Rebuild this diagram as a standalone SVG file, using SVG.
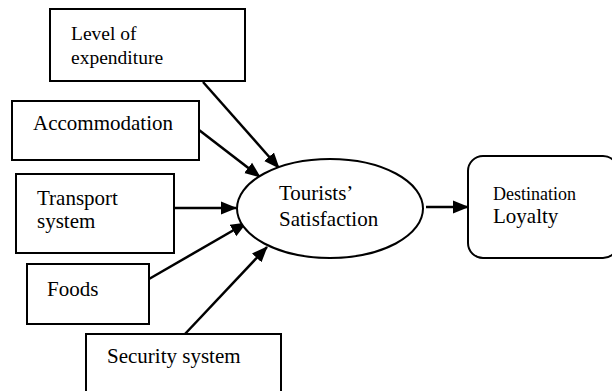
<svg xmlns="http://www.w3.org/2000/svg" width="612" height="391" viewBox="0 0 612 391">
<style>
.box{fill:#fff;stroke:#000;stroke-width:2}
.t{font-family:"Liberation Serif","Times New Roman",serif;font-size:21px;fill:#000}
.c{stroke:#000;stroke-width:2.5;fill:none;marker-end:url(#ah)}
</style>
<defs>
<marker id="ah" markerUnits="userSpaceOnUse" markerWidth="16" markerHeight="14" refX="15" refY="6.5" orient="auto" viewBox="0 0 16 13">
<path d="M0,0 L16,6.5 L0,13 z" fill="#000"/>
</marker>
</defs>
<rect width="612" height="391" fill="#fff"/>
<g id="connectors">
<line class="c" x1="203" y1="82" x2="279" y2="168"/>
<line class="c" x1="199" y1="130" x2="260" y2="177"/>
<line class="c" x1="175" y1="208" x2="236" y2="208"/>
<line class="c" x1="149" y1="279" x2="246" y2="223"/>
<line class="c" x1="185" y1="334" x2="267" y2="247"/>
<line class="c" x1="426" y1="207" x2="468" y2="207"/>
</g>
<g id="level">
<rect class="box" x="50" y="9" width="195" height="72"/>
<text class="t" x="71" y="40" style="font-size:19.5px">Level of</text>
<text class="t" x="71" y="64" style="font-size:19.5px">expenditure</text>
</g>
<g id="accommodation">
<rect class="box" x="12" y="101" width="187" height="59"/>
<text class="t" x="33" y="130">Accommodation</text>
</g>
<g id="transport">
<rect class="box" x="16" y="174" width="158" height="79"/>
<text class="t" x="37" y="205">Transport</text>
<text class="t" x="37" y="228">system</text>
</g>
<g id="foods">
<rect class="box" x="27" y="264" width="122" height="60"/>
<text class="t" x="47" y="296">Foods</text>
</g>
<g id="security">
<rect class="box" x="86" y="334" width="195" height="70"/>
<text class="t" x="107" y="363">Security system</text>
</g>
<g id="satisfaction">
<ellipse class="box" cx="330" cy="208.5" rx="93" ry="49.5"/>
<text class="t" x="279" y="200">Tourists’</text>
<text class="t" x="279" y="226">Satisfaction</text>
</g>
<g id="loyalty">
<rect class="box" x="468" y="156" width="150" height="102" rx="15" ry="15"/>
<text class="t" x="493" y="200" style="font-size:18px">Destination</text>
<text class="t" x="493" y="223">Loyalty</text>
</g>
</svg>
